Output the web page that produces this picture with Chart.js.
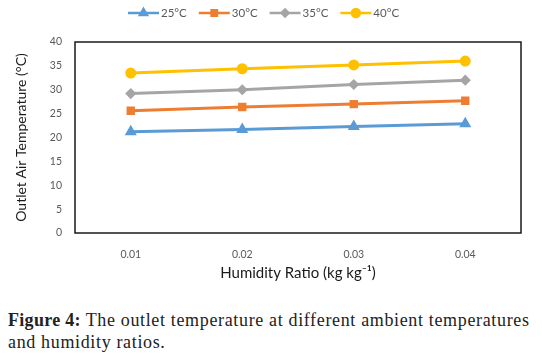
<!DOCTYPE html>
<html><head><meta charset="utf-8">
<script src="https://cdn.jsdelivr.net/npm/chart.js@4/dist/chart.umd.min.js"></script>
<style>
html,body{margin:0;padding:0;background:#fff;width:542px;height:358px;overflow:hidden}
#wrap{position:absolute;left:0;top:0;width:542px;height:295px}
#cap{position:absolute;left:8px;top:309px;width:534px;font-family:"Liberation Serif",serif;font-size:18px;letter-spacing:0.65px;line-height:22px;color:#222;white-space:nowrap}
#cap b{font-weight:bold;letter-spacing:0.3px}
</style></head><body>
<div id="wrap"><canvas id="c"></canvas></div>
<div id="cap"><b>Figure 4:</b> The outlet temperature at different ambient temperatures<br>and humidity ratios.</div>
<script>
const categories = ['0.01','0.02','0.03','0.04'];
const seriesNames = ['25°C','30°C','35°C','40°C'];
const t25 = [21.2, 21.7, 22.3, 22.9];
const t30 = [25.6, 26.4, 27.0, 27.7];
const t35 = [29.2, 30.0, 31.1, 32.0];
const t40 = [33.5, 34.4, 35.2, 36.0];
const yTicks = [0,5,10,15,20,25,30,35,40];

const colors = ['#5B9BD5','#ED7D31','#A5A5A5','#FFC000'];
const styles = ['triangle','rect','rectRot','circle'];
const radii = [4,3.8,3.5,4];
const allData = [t25,t30,t35,t40];

const FONT = 'Lato, "Liberation Sans", sans-serif';

const boxPlugin = {
  id:'box',
  afterDatasetsDraw(chart){
    const {ctx, chartArea:a} = chart;
    ctx.save();
    ctx.strokeStyle = '#1a1a1a';
    ctx.lineWidth = 1.5;
    ctx.strokeRect(a.left, a.top, a.right-a.left, a.bottom-a.top);
    ctx.restore();
  }
};

const legendPlugin = {
  id:'xlLegend',
  afterDraw(chart){
    const ctx = chart.ctx;
    ctx.save();
    ctx.font = '11.5px ' + FONT;
    ctx.textBaseline = 'middle';
    let x = 128;
    const y = 13;
    chart.data.datasets.forEach((ds, i) => {
      ctx.strokeStyle = ds.borderColor;
      ctx.lineWidth = 2.5;
      ctx.beginPath(); ctx.moveTo(x, y); ctx.lineTo(x+31, y); ctx.stroke();
      ctx.fillStyle = ds.borderColor;
      Chart.helpers.drawPoint(ctx, {pointStyle: ds.pointStyle, radius: ds.pointRadius, borderWidth: 1}, x+15.5, y);
      ctx.fillStyle = '#595959';
      ctx.fillText(ds.label, x+33, y);
      x += 33 + ctx.measureText(ds.label).width + 12;
    });
    ctx.restore();
  }
};

new Chart(document.getElementById('c'), {
  type:'line',
  data:{
    labels: categories,
    datasets: allData.map((d,i)=>({
      label: seriesNames[i],
      data: d,
      borderColor: colors[i],
      backgroundColor: colors[i],
      pointBackgroundColor: colors[i],
      pointBorderColor: colors[i],
      pointStyle: styles[i],
      pointRadius: radii[i],
      borderWidth: 3,
      tension: 0,
      fill:false
    }))
  },
  options:{
    responsive:true,
    maintainAspectRatio:false,
    animation:false,
    layout:{padding:{left:0,right:21,top:42,bottom:0}},
    plugins:{legend:{display:false}, tooltip:{enabled:false}},
    scales:{
      x:{
        offset:true,
        grid:{display:false, drawTicks:false, offset:true},
        border:{display:false},
        ticks:{color:'#595959', font:{family:FONT,size:10.5}, padding:15},
        title:{display:true, text:'Humidity Ratio (kg kg⁻¹)', color:'#1a1a1a', font:{family:FONT,size:15}, padding:{top:0,bottom:13}},
        afterFit(s){ s.height = 62; }
      },
      y:{
        min:0, max:40,
        afterBuildTicks(s){ s.ticks = yTicks.map(v=>({value:v})); },
        grid:{display:false, drawTicks:false},
        border:{display:false},
        ticks:{color:'#595959', font:{family:FONT,size:10.5}, padding:13},
        title:{display:true, text:'Outlet Air Temperature (°C)', color:'#1a1a1a', font:{family:FONT,size:14}, padding:{top:13,bottom:0}},
        afterFit(s){ s.width = 75; }
      }
    }
  },
  plugins:[boxPlugin, legendPlugin]
});
</script>
</body></html>
